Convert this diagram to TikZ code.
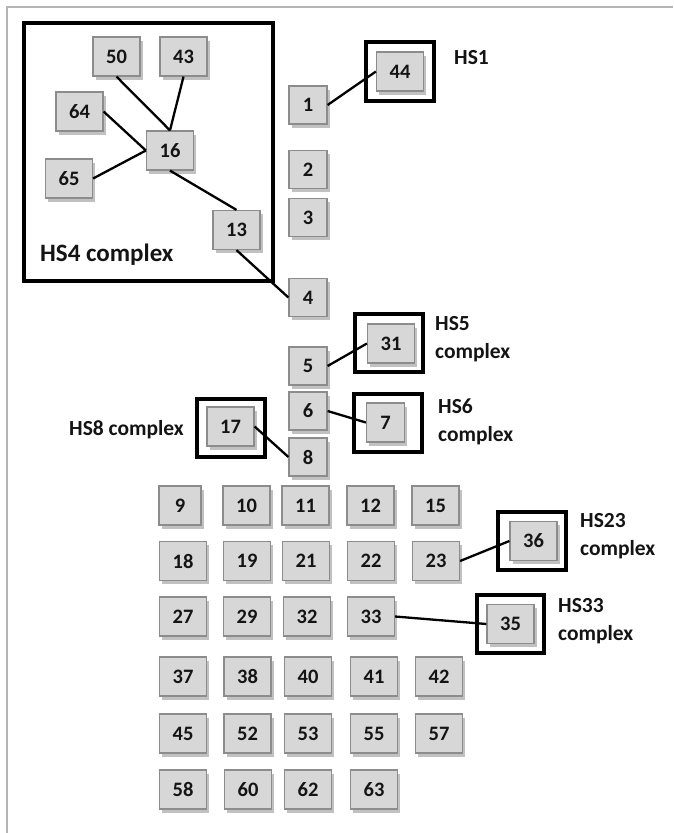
\documentclass[tikz,border=0pt]{standalone}
\usepackage{fontspec}
\setmainfont{Carlito}
\usetikzlibrary{shadows}
\definecolor{boxfill}{HTML}{D7D7D7}
\definecolor{boxline}{HTML}{8C8C8C}
\definecolor{pageline}{HTML}{B4B4B4}
\definecolor{ink}{HTML}{141414}
\tikzset{
  gbox/.style={draw=boxline, line width=1.2pt, fill=boxfill, text=ink,
    minimum width=47pt, minimum height=39pt, inner sep=0pt,
    font=\fontsize{20.5}{22}\selectfont\bfseries,
    drop shadow={shadow xshift=2.5pt, shadow yshift=-3.5pt, opacity=0.35, fill=black!70}},
  cbox/.style={gbox, minimum width=38pt, minimum height=38pt},
  frame/.style={draw=black, line width=3.4pt, inner sep=0pt},
  link/.style={draw=black, line width=2.3pt},
  lab/.style={text=ink, font=\fontsize{21.5}{28}\selectfont\bfseries, align=left, anchor=west, inner sep=0pt},
}
\begin{document}
\begin{tikzpicture}[x=1pt, y=-1pt]
\useasboundingbox (0,0) rectangle (673,833);
\draw[pageline, line width=2pt] (7,833) -- (7,7) -- (673,7);

% frames
\node[frame, minimum width=249pt, minimum height=258pt] (fHS4) at (148.5,152) {};
\node[frame, minimum width=68pt, minimum height=59pt] (f44) at (400,71.5) {};
\node[frame, minimum width=68pt, minimum height=58pt] (f31) at (389,343) {};
\node[frame, minimum width=68pt, minimum height=58pt] (f7) at (388,423) {};
\node[frame, minimum width=68pt, minimum height=58pt] (f17) at (231,428) {};
\node[frame, minimum width=68pt, minimum height=58pt] (f36) at (532,541) {};
\node[frame, minimum width=67pt, minimum height=58pt] (f35) at (510.5,624) {};

% HS4 complex
\node[gbox] (n50) at (116.5,56.5) {50};
\node[gbox] (n43) at (183.5,56.5) {43};
\node[gbox] (n64) at (79.5,111.5) {64};
\node[gbox] (n16) at (170,150.5) {16};
\node[gbox] (n65) at (69,178.5) {65};
\node[gbox] (n13) at (236.5,230) {13};

% column
\node[cbox] (n1) at (308,105) {1};
\node[cbox] (n2) at (308,169.5) {2};
\node[cbox] (n3) at (308,217.5) {3};
\node[cbox] (n4) at (308,297.5) {4};
\node[cbox] (n5) at (308,366) {5};
\node[cbox] (n6) at (308,411) {6};
\node[cbox] (n8) at (308,457) {8};

% framed singles
\node[gbox] (n44) at (400,71.5) {44};
\node[gbox] (n31) at (391,343.5) {31};
\node[gbox, minimum width=38pt] (n7) at (385.5,422.5) {7};
\node[gbox] (n17) at (230.5,426.5) {17};
\node[gbox] (n36) at (533.5,541) {36};
\node[gbox] (n35) at (510.5,624) {35};

% grid
\node[gbox, minimum width=42pt] (n9) at (180,505.5) {9};
\node[gbox] (n10) at (246.5,505.5) {10};
\node[gbox] (n11) at (305.5,505.5) {11};
\node[gbox] (n12) at (370.5,505.5) {12};
\node[gbox] (n15) at (435.5,505.5) {15};

\node[gbox] (n18) at (183,561) {18};
\node[gbox] (n19) at (247,561) {19};
\node[gbox] (n21) at (306,561) {21};
\node[gbox] (n22) at (371,561) {22};
\node[gbox] (n23) at (436,561) {23};

\node[gbox] (n27) at (183,616.5) {27};
\node[gbox] (n29) at (247,616.5) {29};
\node[gbox] (n32) at (307,616.5) {32};
\node[gbox] (n33) at (371,616.5) {33};

\node[gbox] (n37) at (183,676.5) {37};
\node[gbox] (n38) at (247.5,676.5) {38};
\node[gbox] (n40) at (308,676.5) {40};
\node[gbox] (n41) at (374,676.5) {41};
\node[gbox] (n42) at (439,676.5) {42};

\node[gbox] (n45) at (183,733.5) {45};
\node[gbox] (n52) at (247.5,733.5) {52};
\node[gbox] (n53) at (308,733.5) {53};
\node[gbox] (n55) at (374,733.5) {55};
\node[gbox] (n57) at (439,733.5) {57};

\node[gbox] (n58) at (183,789.5) {58};
\node[gbox] (n60) at (248,789.5) {60};
\node[gbox] (n62) at (308,789.5) {62};
\node[gbox] (n63) at (374,789.5) {63};

% connectors
\draw[link] (n50.south) -- (n16.north);
\draw[link] (n43.south) -- (n16.north);
\draw[link] (n64.east) -- (n16.west);
\draw[link] (n65.east) -- (n16.west);
\draw[link] (n16.south) -- (n13.north);
\draw[link] (n13.south) -- (n4.west);
\draw[link] (n1.east) -- (n44.west);
\draw[link] (n5.east) -- (n31.west);
\draw[link] (n6.east) -- (n7.west);
\draw[link] (n17.east) -- (n8.west);
\draw[link] (n23.east) -- (n36.west);
\draw[link] (n33.east) -- (n35.west);

% labels
\node[lab, font=\fontsize{25}{30}\selectfont\bfseries] (tHS4) at (40,255) {HS4 complex};
\node[lab] (tHS1) at (454,58) {HS1};
\node[lab] (tHS5) at (435,339) {HS5\\complex};
\node[lab] (tHS6) at (438,421.5) {HS6\\complex};
\node[lab] (tHS8) at (69,430) {HS8 complex};
\node[lab] (tHS23) at (580,536) {HS23\\complex};
\node[lab] (tHS33) at (558,621.5) {HS33\\complex};
\end{tikzpicture}
\end{document}
